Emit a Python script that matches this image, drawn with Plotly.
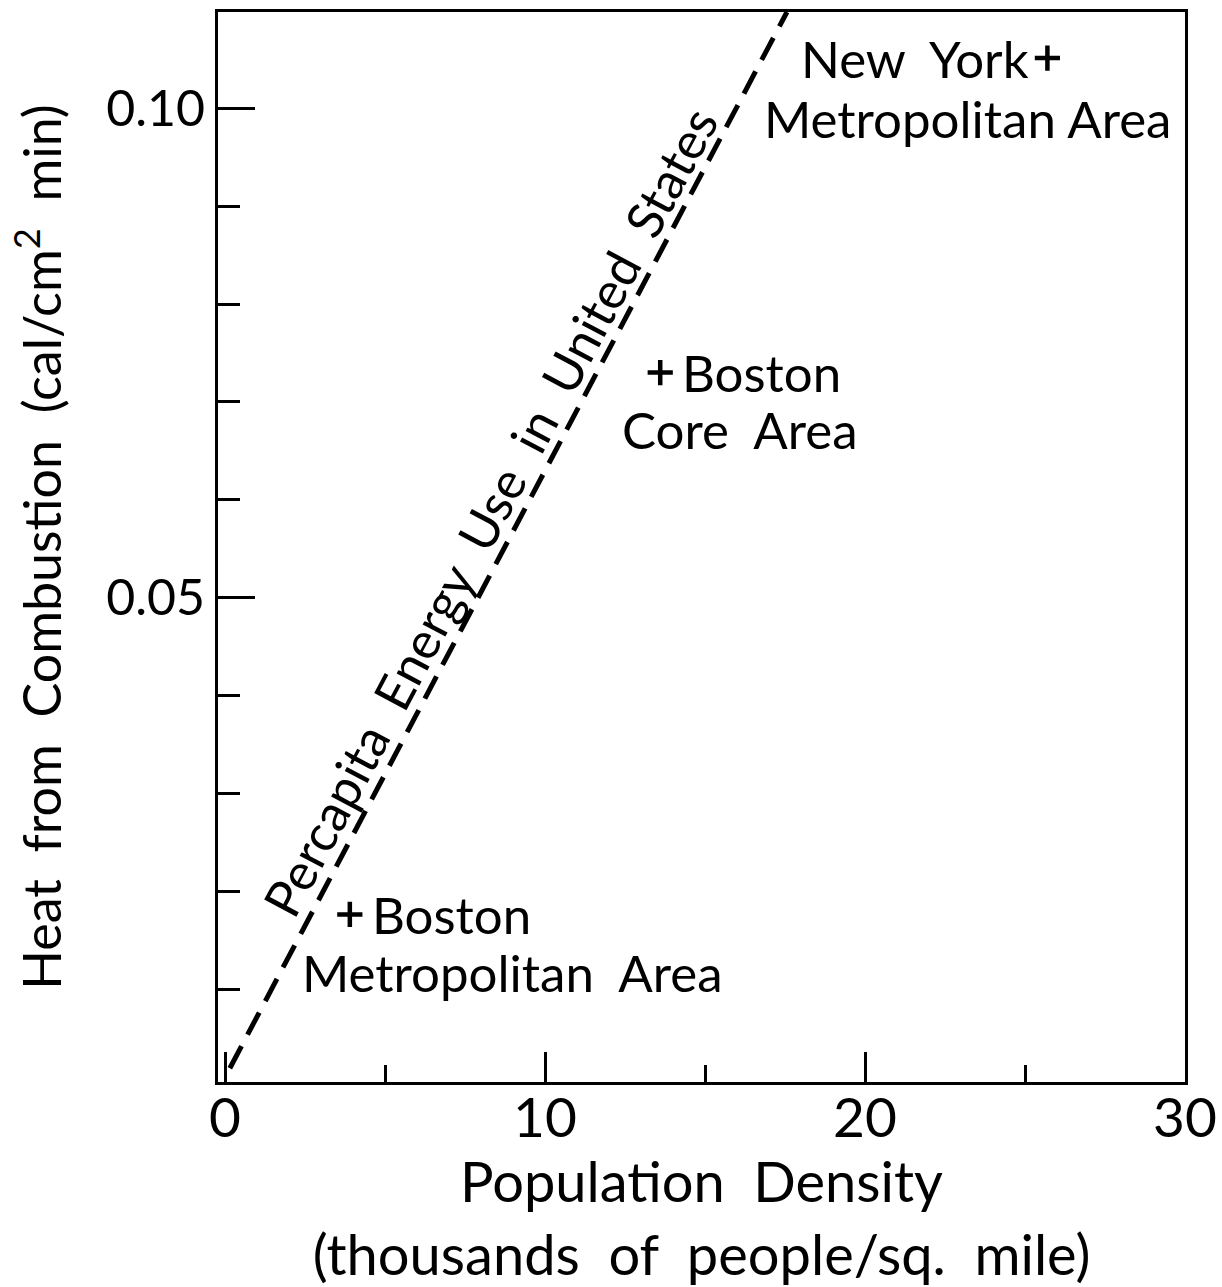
import plotly.graph_objects as go

# Data
line_x = [0.15, 17.56]
line_y = [0.0020, 0.1098]
point_names = ["Boston Metropolitan Area", "Boston Core Area", "New York Metropolitan Area"]
point_x = [3.9, 13.6, 25.7]
point_y = [0.0177, 0.0730, 0.1051]
x_ticks = [0, 10, 20, 30]
y_ticks = [0.05, 0.10]

FONT = "Lato"
fig = go.Figure()

fig.add_trace(go.Scatter(x=line_x, y=line_y, mode="lines",
                         line=dict(color="black", width=5, dash="25px,13px"),
                         showlegend=False, hoverinfo="skip"))
fig.add_trace(go.Scatter(x=point_x, y=point_y, mode="markers",
                         marker=dict(symbol="cross-thin", size=18, color="black",
                                     line=dict(color="black", width=4.5)),
                         showlegend=False, text=point_names))

tf = dict(family=FONT, size=51, color="black")
ann = [
    # Boston Metro
    dict(x=point_x[0], y=point_y[0], text="Boston", xanchor="left", yanchor="middle", xshift=20, yshift=0),
    dict(x=point_x[0], y=point_y[0], text="Metropolitan  Area", xanchor="left", yanchor="middle", xshift=-50, yshift=-58),
    # Boston Core
    dict(x=point_x[1], y=point_y[1], text="Boston", xanchor="left", yanchor="middle", xshift=20, yshift=0),
    dict(x=point_x[1], y=point_y[1], text="Core  Area", xanchor="left", yanchor="middle", xshift=-40, yshift=-57),
    # New York
    dict(x=point_x[2], y=point_y[2], text="New  York", xanchor="right", yanchor="middle", xshift=-16, yshift=0),
    dict(x=point_x[2], y=point_y[2], text="Metropolitan Area", xanchor="right", yanchor="middle", xshift=126, yshift=-60),
    # rotated line label
    dict(x=8.28, y=0.0588, text="Percapita  Energy  Use  in  United  States", textangle=-62,
         xanchor="center", yanchor="middle"),
]
for a in ann:
    a.update(showarrow=False, font=tf, xref="x", yref="y")
    fig.add_annotation(**a)

fig.update_xaxes(range=[-0.22, 30], tickvals=x_ticks, ticktext=[str(v) for v in x_ticks],
                 ticks="inside", ticklen=30, tickwidth=2.5, tickcolor="black",
                 minor=dict(dtick=5, tick0=0, ticks="inside", ticklen=17, tickwidth=2.5, tickcolor="black"),
                 showline=True, linewidth=3, linecolor="black", mirror=True,
                 showgrid=False, zeroline=False, ticklabelstandoff=-14, automargin=False,
                 tickfont=dict(family=FONT, size=55, color="black"),
                 title=dict(text="Population  Density<br>(thousands  of  people/sq.  mile)",
                            font=dict(family=FONT, size=56, color="black"), standoff=24))
fig.update_yaxes(range=[0.0006, 0.1098], tickvals=y_ticks, ticktext=["0.05", "0.10"],
                 ticks="inside", ticklen=37, tickwidth=2.5, tickcolor="black",
                 minor=dict(dtick=0.01, tick0=0, ticks="inside", ticklen=22, tickwidth=2.5, tickcolor="black"),
                 showline=True, linewidth=3, linecolor="black", mirror=True,
                 showgrid=False, zeroline=False, automargin=False,
                 tickfont=dict(family=FONT, size=50, color="black"),
                 title=dict(text="Heat  from  Combustion  (cal/cm<sup>2</sup>  min)",
                            font=dict(family=FONT, size=52, color="black"), standoff=28))

fig.update_layout(width=1222, height=1287, margin=dict(l=218, r=37, t=12, b=205),
                  paper_bgcolor="white", plot_bgcolor="white", showlegend=False)

fig.write_html("out.html")
